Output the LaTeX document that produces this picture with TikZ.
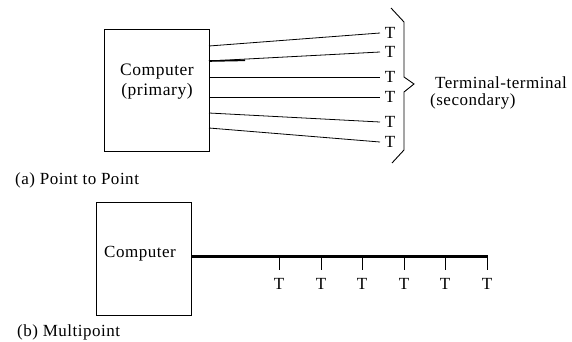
\documentclass[tikz,border=0pt]{standalone}
\usepackage{fontspec}
\setmainfont{Liberation Serif}
\newfontfamily\wideserif[LetterSpace=3]{Liberation Serif}
\begin{document}
\begin{tikzpicture}[x=1pt,y=-1pt,
  box/.style={draw,line width=0.9pt,inner sep=0pt},
  txt/.style={font=\wideserif\fontsize{17}{20}\selectfont,inner sep=0pt},
  term/.style={font=\wideserif\fontsize{17}{20}\selectfont,inner sep=0pt,anchor=center},
  wire/.style={line width=0.8pt},
  bus/.style={line width=3pt},
  drop/.style={line width=0.9pt}]
\useasboundingbox (0,0) rectangle (572,341);
% ---------- (a) point to point ----------
\node[box,minimum width=105pt,minimum height=122pt] (pc) at (156.5,90) {};
\node[txt,align=center,font=\wideserif\fontsize{17.5}{20}\selectfont] (pclab) at (157,82) {Computer\\(primary)};
\foreach \i/\sy/\ey in {1/46/33,2/61/52,3/77/77,4/97/97,5/113/122,6/128/142}{
  \node[term] (t\i) at (390,\ey) {T};
  \coordinate (s\i) at (209,\sy);
  \coordinate (e\i) at (380,\ey);
  \draw[wire] (s\i) -- (e\i);
}
\coordinate (k) at (245,60.3);
\draw[line width=1.6pt] (s2) -- (k);
\draw[line width=0.9pt] (391,8) -- (404,22) -- (404,77) -- (414,84) -- (404,92) -- (404,150) -- (392,163);
\node[txt,anchor=west] (tt) at (435,83) {Terminal-terminal};
\node[txt,anchor=west] (sec) at (430,101) {(secondary)};
\node[txt,anchor=west] (capa) at (15,180) {(a) Point to Point};
% ---------- (b) multipoint ----------
\node[box,minimum width=95pt,minimum height=113pt] (pc2) at (143.5,258.5) {};
\node[txt] (pc2lab) at (140,254) {Computer};
\coordinate (b0) at (191,256);
\coordinate (b1) at (488,256);
\draw[bus] (b0) -- (b1);
\foreach \i/\x in {1/279,2/321,3/362,4/404,5/445,6/487}{
  \coordinate (d\i) at (\x,256);
  \node[term] (m\i) at (\x,284) {T};
  \draw[drop] (d\i) -- (\x,270);
}
\node[txt,anchor=west] (capb) at (17,332) {(b) Multipoint};
\end{tikzpicture}
\end{document}
